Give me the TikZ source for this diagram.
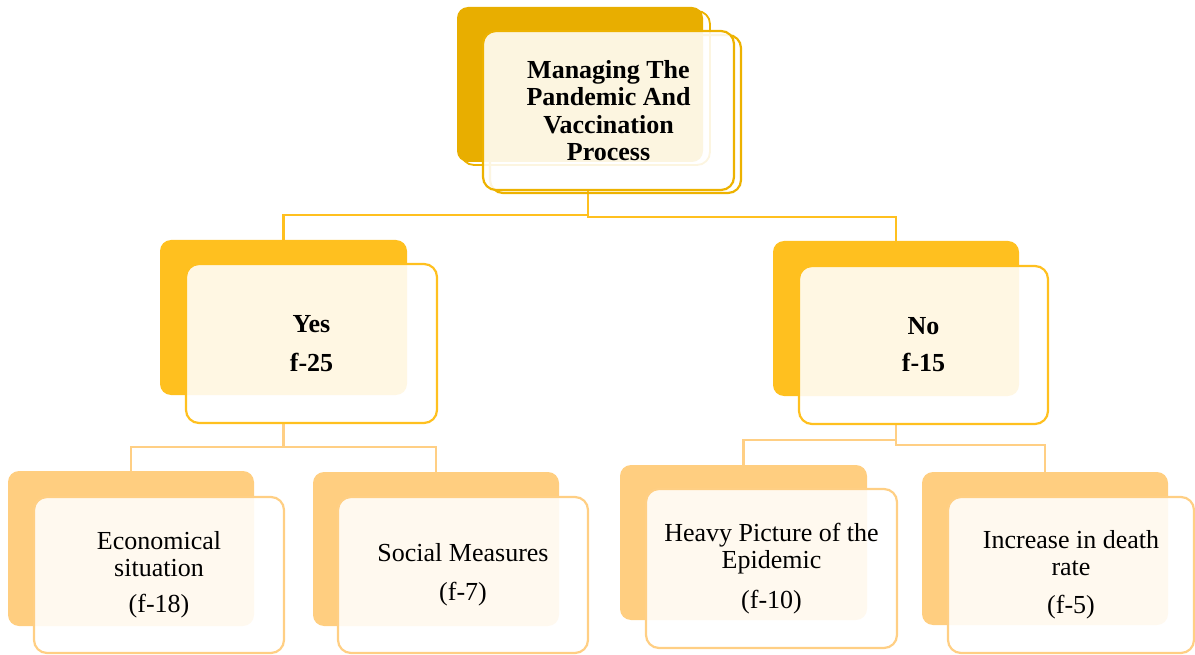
\documentclass[tikz,border=0pt]{standalone}
\usepackage{fontspec}
\setmainfont{Liberation Serif}
\definecolor{topback}{HTML}{E8AE00}
\definecolor{topline}{HTML}{EDB200}
\definecolor{midback}{HTML}{FFC01F}
\definecolor{midline}{HTML}{FFC01F}
\definecolor{leafback}{HTML}{FFCE80}
\definecolor{leafline}{HTML}{FFCF84}
\tikzset{
  backbox/.style={draw=none, fill=#1, rounded corners=11pt, inner sep=0pt, outer sep=0pt},
  frontbox/.style={draw=#1, line width=2.2pt, fill=white, fill opacity=0.88, text opacity=1,
    rounded corners=13pt, inner sep=0pt, outer sep=0pt, align=center},
  shadowbox/.style={draw=#1, line width=2.2pt, rounded corners=13pt, inner sep=0pt, outer sep=0pt},
  topfont/.style={font=\fontsize{26}{27.3}\selectfont\bfseries},
  midfont/.style={font=\fontsize{26}{27}\selectfont\bfseries},
  leaffont/.style={font=\fontsize{26}{27}\selectfont},
  connA/.style={draw=midline, line width=2.3pt},
  connB/.style={draw=leafline, line width=2.8pt},
}
\begin{document}
\begin{tikzpicture}[x=1pt,y=-1pt]
\useasboundingbox (0,0) rectangle (1195,655);
% connector joints
\coordinate (tj) at (588,215);
\coordinate (tjr) at (588,217);
\coordinate (yj) at (283.5,447);
\coordinate (nj) at (896,440);
\coordinate (njr) at (896,445);
\coordinate (tjtop) at (588,190);
\coordinate (yestop) at (283.5,240);
\coordinate (notop) at (896,241);
\coordinate (yesbot) at (283.5,423);
\coordinate (nobot) at (896,424);
\coordinate (econtop) at (131,471);
\coordinate (soctop) at (436,472);
\coordinate (heavytop) at (743.5,465);
\coordinate (inctop) at (1045,472);
% connectors (behind everything)
\draw[connA] (tjtop) -- (tj) -| (yestop);
\draw[connA] (tj) -- (tjr) -| (notop);
\draw[connB] (yesbot) -- (yj) -| (econtop);
\draw[connB] (yj) -| (soctop);
\draw[connB] (nobot) -- (nj) -| (heavytop);
\draw[connB] (nj) -- (njr) -| (inctop);
% top group
\node[shadowbox=topline, line width=1.8pt, minimum width=249, minimum height=154] (topb2) at (585.5,88) {};
\node[backbox=topback, minimum width=246, minimum height=155] (topb) at (580,84.5) {};
\node[shadowbox=topline, minimum width=251, minimum height=158] (topf2) at (615.5,114) {};
\node[frontbox=topline, topfont, minimum width=251, minimum height=159] (topf) at (608.5,110.5)
  {Managing The\\Pandemic And\\Vaccination\\Process};
% Yes
\node[backbox=midback, minimum width=247, minimum height=155] (yesb) at (283.5,317.5) {};
\node[frontbox=midline, midfont, minimum width=251, minimum height=159] (yesf) at (311.5,343.5)
  {Yes\\[12pt]f-25};
% No
\node[backbox=midback, minimum width=246, minimum height=155] (nob) at (896,318.5) {};
\node[frontbox=midline, midfont, minimum width=249, minimum height=158] (nof) at (923.5,345)
  {No\\[10pt]f-15};
% leaves
\node[backbox=leafback, minimum width=246, minimum height=155] (econb) at (131,548.5) {};
\node[frontbox=leafline, leaffont, minimum width=250, minimum height=156] (econf) at (159,575)
  {Economical\\situation\\[9pt](f-18)};
\node[backbox=leafback, minimum width=246, minimum height=154] (socb) at (436,549) {};
\node[frontbox=leafline, leaffont, minimum width=250, minimum height=156] (socf) at (463,575)
  {Social Measures\\[12pt](f-7)};
\node[backbox=leafback, minimum width=247, minimum height=155] (heavyb) at (743.5,542.5) {};
\node[frontbox=leafline, leaffont, minimum width=251, minimum height=159] (heavyf) at (771.5,568.5)
  {Heavy Picture of the\\Epidemic\\[13pt](f-10)};
\node[backbox=leafback, minimum width=246, minimum height=153] (incb) at (1045,548.5) {};
\node[frontbox=leafline, leaffont, minimum width=246, minimum height=156] (incf) at (1071,575)
  {Increase in death\\rate\\[11pt](f-5)};
\end{tikzpicture}
\end{document}
